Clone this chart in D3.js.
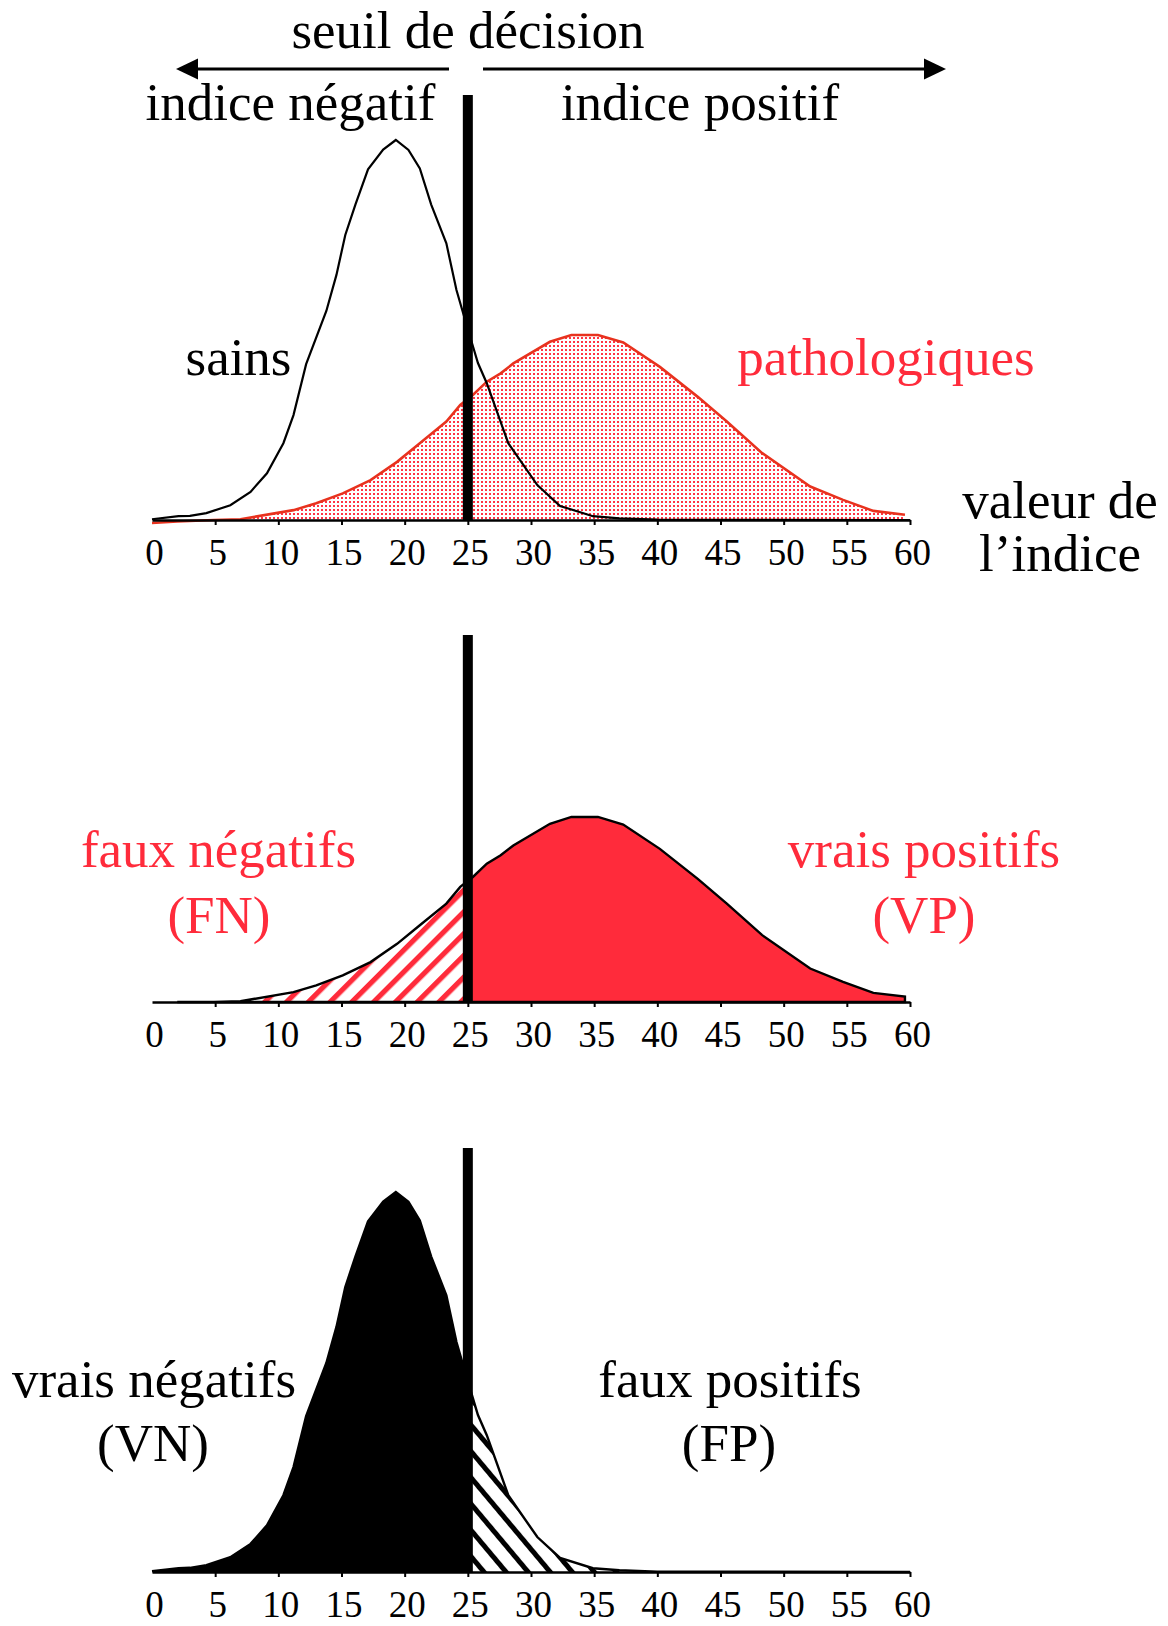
<!DOCTYPE html>
<html>
<head>
<meta charset="utf-8">
<script src="https://cdn.jsdelivr.net/npm/d3@7"></script>
<style>
    body { margin: 0; background: #fff; }
    svg { display: block; }
    text { font-family: "Liberation Serif", "Times New Roman", serif; }
</style>
</head>
<body>
<svg width="1168" height="1626"></svg>
<script>
// valeur de l'indice -> effectif (unités arbitraires)
const sains = [
    [0, 0.02], [2.1, 0.1], [3, 0.11], [4.3, 0.18], [6.2, 0.39], [7.8, 0.74],
    [9.1, 1.23], [10.4, 2.02], [11.2, 2.76], [12.2, 4.1], [13.8, 5.5], [14.6, 6.45],
    [15.3, 7.5], [16.1, 8.3], [17.1, 9.23], [18.3, 9.75], [19.3, 10], [20.3, 9.74],
    [21.2, 9.25], [22.1, 8.3], [23.3, 7.28], [24.1, 6.05], [24.9, 5.13], [25.8, 4.13],
    [26.5, 3.6], [28.2, 2.02], [30.5, 0.92], [32.3, 0.37], [34.9, 0.1], [37, 0.045],
    [40, 0.01], [60, 0]
];
const pathologiques = [
    [0, -0.08], [2, -0.04], [4.9, 0], [7, 0.02], [11.2, 0.26], [13, 0.44],
    [15.1, 0.7], [17.3, 1.05], [19.4, 1.53], [21.2, 2.02], [23.3, 2.59], [24.4, 3.03],
    [25.4, 3.29], [26.5, 3.64], [27.6, 3.86], [28.6, 4.12], [31.5, 4.69], [33.2, 4.87],
    [35.3, 4.87], [37.3, 4.67], [40.2, 4.03], [43.2, 3.24], [45.5, 2.59], [48.3, 1.76],
    [52.1, 0.88], [54.7, 0.53], [57.1, 0.24], [59.6, 0.14]
];
const tickValues = [0, 5, 10, 15, 20, 25, 30, 35, 40, 45, 50, 55, 60];
const seuil = 25;

const RED = '#ff2b3b';
const svg = d3.select('svg');

const x = d3.scaleLinear().domain([0, 60]).range([152, 910]);

// motifs : points rouges, hachures rouges, hachures noires
const defs = svg.append('defs');
const dots = defs.append('pattern')
    .attr('id', 'points')
    .attr('patternUnits', 'userSpaceOnUse')
    .attr('width', 4).attr('height', 4);
dots.append('rect').attr('width', 4).attr('height', 4).attr('fill', '#fff');
dots.append('rect').attr('x', 1).attr('y', 1).attr('width', 2).attr('height', 2).attr('fill', '#ff3444');

function hatch(id, color, angle, period, thick) {
    const p = defs.append('pattern')
        .attr('id', id)
        .attr('patternUnits', 'userSpaceOnUse')
        .attr('width', period).attr('height', 10)
        .attr('patternTransform', 'rotate(' + angle + ')');
    p.append('rect').attr('width', period).attr('height', 10).attr('fill', '#fff');
    p.append('rect').attr('width', thick).attr('height', 10).attr('fill', color);
}
hatch('hachRouge', RED, 45, 15.4, 5.2);
hatch('hachNoir', '#000', -40, 16.9, 5);

function clip(id, x0, x1) {
    defs.append('clipPath').attr('id', id)
        .append('rect')
        .attr('x', x0).attr('y', 0)
        .attr('width', x1 - x0).attr('height', 1626);
}
clip('gauche', 0, x(seuil));
clip('droite', x(seuil), 1168);

function panel(axisY, barTop) {
    const y = d3.scaleLinear().domain([0, 10]).range([axisY, axisY - 380]);
    const g = svg.append('g');
    const area = d3.area()
        .x(function(d) { return x(d[0]); })
        .y0(y(0))
        .y1(function(d) { return y(Math.max(0, d[1])); });
    const line = d3.line()
        .x(function(d) { return x(d[0]); })
        .y(function(d) { return y(d[1]); });
    return { g: g, y: y, area: area, line: line, axisY: axisY, barTop: barTop };
}

function finish(p) {
    // seuil de décision
    p.g.append('rect')
        .attr('x', x(seuil) - 5).attr('y', p.barTop)
        .attr('width', 10).attr('height', p.axisY - p.barTop)
        .attr('fill', '#000');

    const axis = p.g.append('g')
        .attr('transform', 'translate(0,' + p.axisY + ')')
        .call(d3.axisBottom(x).tickValues(tickValues).tickSize(5).tickSizeOuter(0));
    axis.select('.domain').attr('stroke-width', 2.6);
    axis.selectAll('.tick line')
        .attr('stroke-width', 2)
        .attr('opacity', function(d) { return d === 0 ? 0 : 1; });
    axis.selectAll('.tick text')
        .attr('y', 45).attr('dy', 0).attr('dx', 2)
        .attr('font-size', 37)
        .attr('font-family', '"Liberation Serif", "Times New Roman", serif')
        .attr('fill', '#000');
}

function label(txt, cx, baseline, color) {
    svg.append('text')
        .attr('x', cx).attr('y', baseline)
        .attr('text-anchor', 'middle')
        .attr('font-size', 53)
        .attr('fill', color || '#000')
        .text(txt);
}

// ---- panneau 1 : les deux distributions
const p1 = panel(520, 95);
p1.g.append('path').datum(pathologiques)
    .attr('d', p1.area).attr('fill', 'url(#points)');
p1.g.append('path').datum(pathologiques)
    .attr('d', p1.line).attr('fill', 'none')
    .attr('stroke', '#e8321e').attr('stroke-width', 2.6);
p1.g.append('path').datum(sains)
    .attr('d', p1.line).attr('fill', 'none')
    .attr('stroke', '#000').attr('stroke-width', 2.2);
finish(p1);

// flèches
const arrows = svg.append('g');
arrows.append('line').attr('x1', 195).attr('x2', 449).attr('y1', 69).attr('y2', 69)
    .attr('stroke', '#000').attr('stroke-width', 3);
arrows.append('path').attr('d', 'M176,69L198,58.5L198,79.5Z').attr('fill', '#000');
arrows.append('line').attr('x1', 483).attr('x2', 927).attr('y1', 69).attr('y2', 69)
    .attr('stroke', '#000').attr('stroke-width', 3);
arrows.append('path').attr('d', 'M946,69L924,58.5L924,79.5Z').attr('fill', '#000');

label('seuil de décision', 468, 48);
label('indice négatif', 290.5, 120);
label('indice positif', 700, 120);
label('sains', 238.5, 375);
label('pathologiques', 886, 375, RED);
label('valeur de', 1060, 518);
label('l\u2019indice', 1060, 571);

// ---- panneau 2 : faux négatifs / vrais positifs
const p2 = panel(1002, 635);
p2.g.append('path').datum(pathologiques)
    .attr('d', p2.area).attr('fill', 'url(#hachRouge)').attr('clip-path', 'url(#gauche)');
p2.g.append('path').datum(pathologiques)
    .attr('d', p2.area).attr('fill', RED).attr('clip-path', 'url(#droite)');
p2.g.append('path').datum(pathologiques.filter(function(d) { return d[0] >= 0.9; }))
    .attr('d', p2.area).attr('fill', 'none')
    .attr('stroke', '#000').attr('stroke-width', 2.4);
finish(p2);

label('faux négatifs', 218.5, 867, RED);
label('(FN)', 219, 933, RED);
label('vrais positifs', 924, 867, RED);
label('(VP)', 924, 933, RED);

// ---- panneau 3 : vrais négatifs / faux positifs
const p3 = panel(1572, 1148);
p3.g.append('path').datum(sains)
    .attr('d', p3.area).attr('fill', '#000').attr('clip-path', 'url(#gauche)');
p3.g.append('path').datum(sains)
    .attr('d', p3.area).attr('fill', 'url(#hachNoir)').attr('clip-path', 'url(#droite)');
p3.g.append('path').datum(sains)
    .attr('d', p3.line).attr('fill', 'none')
    .attr('stroke', '#000').attr('stroke-width', 2.4);
finish(p3);

label('vrais négatifs', 154, 1397);
label('(VN)', 153, 1461);
label('faux positifs', 730, 1397);
label('(FP)', 729, 1461);
</script>
</body>
</html>
